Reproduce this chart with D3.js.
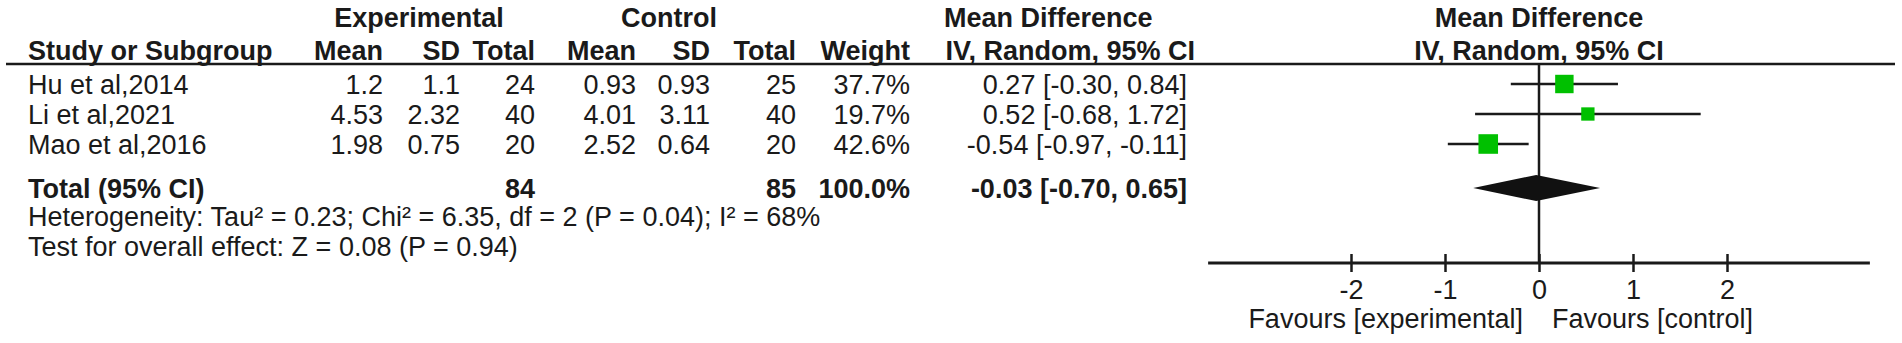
<!DOCTYPE html>
<html>
<head>
<meta charset="utf-8">
<script src="https://cdn.jsdelivr.net/npm/d3@7"></script>
<style>
  body { margin: 0; background: #fff; }
  svg { display: block; font-family: "Liberation Sans", Arial, sans-serif; }
  text { fill: #1a1a1a; }
  .bold { font-weight: bold; }
</style>
</head>
<body>
<div id="chart"></div>
<script>
var width = 1902, height = 343;
var fontSize = 27;

// study data
var studies = ["Hu et al,2014", "Li et al,2021", "Mao et al,2016"];
var expMean = [1.2, 4.53, 1.98];
var expSD = [1.1, 2.32, 0.75];
var expTotal = [24, 40, 20];
var ctlMean = [0.93, 4.01, 2.52];
var ctlSD = [0.93, 3.11, 0.64];
var ctlTotal = [25, 40, 20];
var weights = [37.7, 19.7, 42.6];
var md = [0.27, 0.52, -0.54];
var ciLow = [-0.30, -0.68, -0.97];
var ciHigh = [0.84, 1.72, -0.11];

// pooled result
var totalLabel = "Total (95% CI)";
var pooledN = [84, 85];
var pooledWeight = 100.0;
var pooled = [-0.03, -0.70, 0.65];
var heterogeneity = "Heterogeneity: Tau² = 0.23; Chi² = 6.35, df = 2 (P = 0.04); I² = 68%";
var overallTest = "Test for overall effect: Z = 0.08 (P = 0.94)";

// axis
var tickValues = [-2, -1, 0, 1, 2];
var axisExtent = [-3.52, 3.52];
var favours = ["Favours [experimental]", "Favours [control]"];

// plain hyphen for negatives, like the original
var locale = d3.formatLocale({decimal: ".", thousands: ",", grouping: [3], currency: ["", ""], minus: "-"});
var f2 = locale.format(".2f");
var ciText = (m, l, h) => f2(m) + " [" + f2(l) + ", " + f2(h) + "]";

var rowY = d3.scalePoint().domain(studies).range([84, 144]);
var totalY = 188;
var axisY = 263;

var x = d3.scaleLinear().domain([-2, 2]).range([1351, 1727]);
var boxSize = d3.scaleSqrt().domain([0, 100]).range([0, 30]);

var svg = d3.select("#chart").append("svg")
    .attr("width", width).attr("height", height)
    .style("font-size", fontSize + "px");

svg.append("rect").attr("width", width).attr("height", height).attr("fill", "#fff");

// table columns: right edge of each
var cols = [
  {right: 383, head: "Mean", vals: expMean.map(String)},
  {right: 460, head: "SD", vals: expSD.map(String)},
  {right: 535, head: "Total", vals: expTotal.map(String)},
  {right: 636, head: "Mean", vals: ctlMean.map(String)},
  {right: 710, head: "SD", vals: ctlSD.map(String)},
  {right: 796, head: "Total", vals: ctlTotal.map(String)},
  {right: 910, head: "Weight", vals: weights.map(w => w.toFixed(1) + "%")},
  {right: 1187, head: "", vals: md.map((m, i) => ciText(m, ciLow[i], ciHigh[i]))}
];

var head1Y = 27, head2Y = 60;

// group headers
var g1 = svg.append("g").attr("class", "bold");
g1.append("text").attr("x", 419).attr("y", head1Y).attr("text-anchor", "middle").text("Experimental");
g1.append("text").attr("x", 669).attr("y", head1Y).attr("text-anchor", "middle").text("Control");
g1.append("text").attr("x", 944).attr("y", head1Y).text("Mean Difference");
g1.append("text").attr("x", x(0)).attr("y", head1Y).attr("text-anchor", "middle").text("Mean Difference");

var g2 = svg.append("g").attr("class", "bold");
g2.append("text").attr("x", 28).attr("y", head2Y).text("Study or Subgroup");
g2.selectAll(".colhead").data(cols.filter(c => c.head)).enter().append("text")
    .attr("x", d => d.right).attr("y", head2Y).attr("text-anchor", "end").text(d => d.head);
g2.append("text").attr("x", 1195).attr("y", head2Y).attr("text-anchor", "end").text("IV, Random, 95% CI");
g2.append("text").attr("x", x(0)).attr("y", head2Y).attr("text-anchor", "middle").text("IV, Random, 95% CI");

svg.append("line").attr("x1", 6).attr("x2", 1895).attr("y1", 64).attr("y2", 64)
    .attr("stroke", "#1a1a1a").attr("stroke-width", 2.5);

// study rows
var base = fontSize * 0.36;
svg.selectAll(".study").data(studies).enter().append("text")
    .attr("x", 28).attr("y", d => rowY(d) + base).text(d => d);

cols.forEach(function(c) {
  svg.append("g").selectAll("text").data(c.vals).enter().append("text")
      .attr("x", c.right).attr("y", (d, i) => rowY(studies[i]) + base)
      .attr("text-anchor", "end").text(d => d);
});

// total row
var gt = svg.append("g").attr("class", "bold");
gt.append("text").attr("x", 28).attr("y", totalY + base).text(totalLabel);
gt.append("text").attr("x", 535).attr("y", totalY + base).attr("text-anchor", "end").text(pooledN[0]);
gt.append("text").attr("x", 796).attr("y", totalY + base).attr("text-anchor", "end").text(pooledN[1]);
gt.append("text").attr("x", 910).attr("y", totalY + base).attr("text-anchor", "end").text(pooledWeight.toFixed(1) + "%");
gt.append("text").attr("x", 1187).attr("y", totalY + base).attr("text-anchor", "end").text(ciText(pooled[0], pooled[1], pooled[2]));

svg.append("text").attr("x", 28).attr("y", 216 + base).text(heterogeneity);
svg.append("text").attr("x", 28).attr("y", 246 + base).text(overallTest);

// plot: zero line
svg.append("line").attr("x1", x(0)).attr("x2", x(0)).attr("y1", 64).attr("y2", axisY)
    .attr("stroke", "#1a1a1a").attr("stroke-width", 2.5);

// whiskers
svg.append("g").selectAll("line").data(studies).enter().append("line")
    .attr("x1", (d, i) => x(ciLow[i])).attr("x2", (d, i) => x(ciHigh[i]))
    .attr("y1", d => rowY(d)).attr("y2", d => rowY(d))
    .attr("stroke", "#1a1a1a").attr("stroke-width", 2.5);

// boxes
svg.append("g").selectAll("rect").data(studies).enter().append("rect")
    .attr("x", (d, i) => x(md[i]) - boxSize(weights[i]) / 2)
    .attr("y", (d, i) => rowY(d) - boxSize(weights[i]) / 2)
    .attr("width", (d, i) => boxSize(weights[i]))
    .attr("height", (d, i) => boxSize(weights[i]))
    .attr("fill", "#00c000");

// diamond
var dh = 13;
svg.append("path")
    .attr("d", "M" + x(pooled[1]) + "," + totalY + "L" + x(pooled[0]) + "," + (totalY - dh) +
               "L" + x(pooled[2]) + "," + totalY + "L" + x(pooled[0]) + "," + (totalY + dh) + "Z")
    .attr("fill", "#111");

// axis
var axis = svg.append("g").attr("transform", "translate(0," + axisY + ")")
    .call(d3.axisBottom(x).tickValues(tickValues).tickSize(8)
      .tickFormat(locale.format("d")));
axis.select(".domain").remove();
axis.append("line").attr("x1", x(axisExtent[0])).attr("x2", x(axisExtent[1]))
    .attr("stroke", "#1a1a1a").attr("stroke-width", 3);
axis.selectAll(".tick line").attr("y1", -9).attr("y2", 9).attr("stroke", "#1a1a1a").attr("stroke-width", 2.5);
axis.selectAll(".tick text").attr("font-size", fontSize).attr("font-family", "Liberation Sans, Arial, sans-serif")
    .attr("fill", "#1a1a1a").attr("dy", null).attr("y", 36);

svg.append("text").attr("x", x(0) - 16).attr("y", 318 + base).attr("text-anchor", "end").text(favours[0]);
svg.append("text").attr("x", x(0) + 13).attr("y", 318 + base).text(favours[1]);
</script>
</body>
</html>
